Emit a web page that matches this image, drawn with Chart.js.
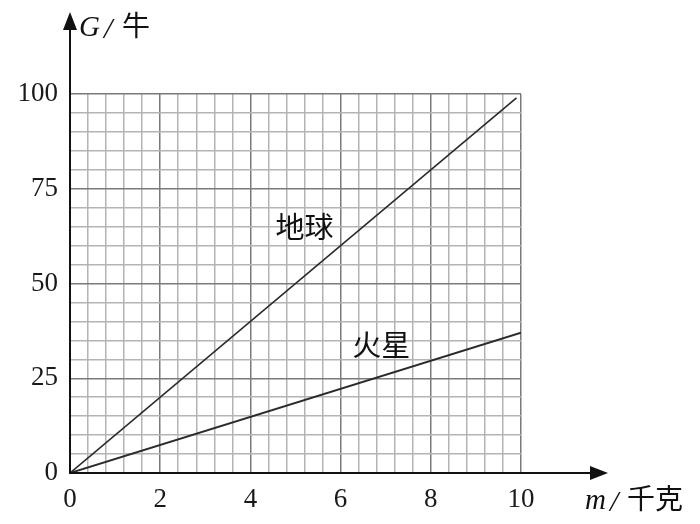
<!DOCTYPE html>
<html lang="zh">
<head>
    <meta charset="UTF-8">
    <title>G-m 图像</title>
    <style>
        body {
    background-color: #ffffff;
    margin: 0;
    padding: 0;
}
canvas {
    display: block;
}
    </style>
    <script src="https://cdn.jsdelivr.net/npm/chart.js"></script>
</head>
<body>
    <canvas id="gravityChart" width="700" height="524"></canvas>

    <script>
        // Dữ liệu: khối lượng m (千克) và trọng lực G (牛)
        const earthM = [0, 9.9];
        const earthG = [0, 99];
        const marsM = [0, 10];
        const marsG = [0, 37];

        // Nhãn trục
        const xTickLabels = [0, 2, 4, 6, 8, 10];
        const yTickLabels = [0, 25, 50, 75, 100];

        // Lưới ô vuông nhỏ
        const xGrid = [];
        for (let i = 0; i <= 25; i++) xGrid.push(Math.round(i * 4) / 10);
        const yGrid = [];
        for (let i = 0; i <= 20; i++) yGrid.push(i * 5);

        const serif = '"Liberation Serif", "DejaVu Serif", serif';
        const cjk = '"Noto Sans CJK SC", sans-serif';

        // Mũi tên trục, tên trục và nhãn đường
        const decorPlugin = {
            id: 'decor',
            afterDraw(chart) {
                const ctx = chart.ctx;
                const x = chart.scales.x, y = chart.scales.y;
                const x0 = x.getPixelForValue(0), y0 = y.getPixelForValue(0);
                ctx.save();
                ctx.strokeStyle = '#111';
                ctx.fillStyle = '#111';
                ctx.lineWidth = 2;

                // trục y kéo dài lên trên
                ctx.beginPath();
                ctx.moveTo(x0, y0);
                ctx.lineTo(x0, 26);
                ctx.stroke();
                ctx.beginPath();
                ctx.moveTo(x0, 12);
                ctx.lineTo(x0 - 7, 30);
                ctx.lineTo(x0 + 7, 30);
                ctx.closePath();
                ctx.fill();

                // trục x kéo dài sang phải
                ctx.beginPath();
                ctx.moveTo(x0, y0);
                ctx.lineTo(592, y0);
                ctx.stroke();
                ctx.beginPath();
                ctx.moveTo(608, y0);
                ctx.lineTo(590, y0 - 7);
                ctx.lineTo(590, y0 + 7);
                ctx.closePath();
                ctx.fill();

                ctx.textBaseline = 'alphabetic';
                ctx.textAlign = 'left';

                // G/牛
                ctx.font = 'italic 29px ' + serif;
                ctx.fillText('G', 79, 36);
                ctx.font = 'italic 30px ' + serif;
                ctx.fillText('/', 104, 38);
                ctx.font = '28px ' + cjk;
                ctx.fillText('牛', 122, 36);

                // m/千克
                ctx.font = 'italic 29px ' + serif;
                ctx.fillText('m', 585, 509);
                ctx.font = 'italic 30px ' + serif;
                ctx.fillText('/', 610, 511);
                ctx.font = '28px ' + cjk;
                ctx.fillText('千克', 627, 509);

                // nhãn đường
                ctx.font = '29px ' + cjk;
                ctx.textAlign = 'center';
                ctx.textBaseline = 'middle';
                ctx.fillText('地球', x.getPixelForValue(5.2), y.getPixelForValue(65));
                ctx.fillText('火星', x.getPixelForValue(6.9), y.getPixelForValue(33.8));
                ctx.restore();
            }
        };

        const isMajor = (v, list) => list.some(t => Math.abs(t - v) < 1e-6);

        const ctxGravity = document.getElementById('gravityChart').getContext('2d');
        const gravityChart = new Chart(ctxGravity, {
            type: 'scatter',
            data: {
                datasets: [
                    {
                        label: '地球',
                        data: earthM.map((m, i) => ({ x: m, y: earthG[i] })),
                        showLine: true,
                        borderColor: '#2a2a2a',
                        borderWidth: 1.6,
                        pointRadius: 0
                    },
                    {
                        label: '火星',
                        data: marsM.map((m, i) => ({ x: m, y: marsG[i] })),
                        showLine: true,
                        borderColor: '#2a2a2a',
                        borderWidth: 2,
                        pointRadius: 0
                    }
                ]
            },
            options: {
                responsive: false,
                animation: false,
                layout: {
                    padding: { left: 0, top: 94, right: 179, bottom: 0 }
                },
                plugins: {
                    legend: { display: false },
                    tooltip: { enabled: false }
                },
                scales: {
                    x: {
                        type: 'linear',
                        min: 0,
                        max: 10,
                        afterBuildTicks: s => { s.ticks = xGrid.map(v => ({ value: v })); },
                        afterFit: s => { s.height = 51; },
                        grid: {
                            drawTicks: false,
                            lineWidth: 1.5,
                            color: c => isMajor(c.tick.value, xTickLabels) ? '#7a7a7a' : '#b4b4b4'
                        },
                        border: { color: '#111', width: 2 },
                        ticks: {
                            autoSkip: false,
                            maxRotation: 0,
                            padding: 11,
                            color: '#1a1a1a',
                            font: { family: serif, size: 27 },
                            callback: v => isMajor(v, xTickLabels) ? String(Math.round(v)) : ''
                        }
                    },
                    y: {
                        type: 'linear',
                        min: 0,
                        max: 100,
                        afterBuildTicks: s => { s.ticks = yGrid.map(v => ({ value: v })); },
                        afterFit: s => { s.width = 70; },
                        grid: {
                            drawTicks: false,
                            lineWidth: 1.5,
                            color: c => isMajor(c.tick.value, yTickLabels) ? '#7a7a7a' : '#b4b4b4'
                        },
                        border: { color: '#111', width: 2 },
                        ticks: {
                            autoSkip: false,
                            padding: 12,
                            color: '#1a1a1a',
                            font: { family: serif, size: 27 },
                            callback: v => isMajor(v, yTickLabels) ? String(v) : ''
                        }
                    }
                }
            },
            plugins: [decorPlugin]
        });
    </script>
</body>
</html>
